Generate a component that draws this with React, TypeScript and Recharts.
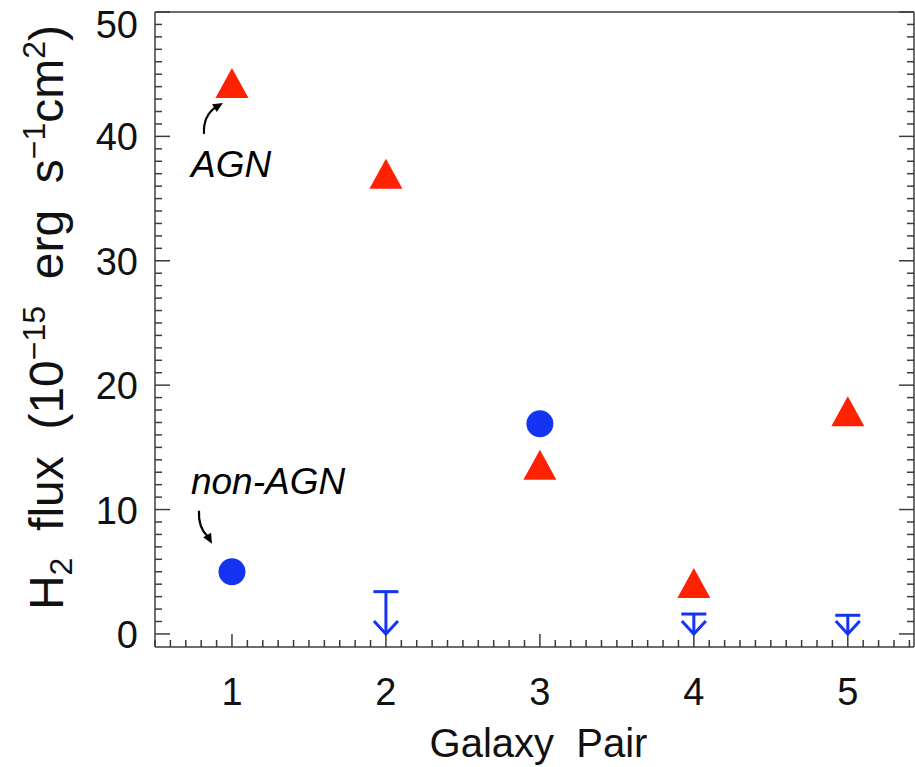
import { ScatterChart, Scatter, XAxis, YAxis, ReferenceLine, ReferenceDot } from 'recharts';

// Galaxy pair index on the x axis
const agnPairs = [1, 2, 3, 4, 5];
const agnFlux = [44.3, 37.0, 13.6, 4.1, 17.9];

const nonAgnPairs = [1, 3];
const nonAgnFlux = [5.0, 16.9];

// non-AGN upper limits
const limitPairs = [2, 4, 5];
const limitFlux = [3.4, 1.6, 1.5];

const xMajorTicks = [1, 2, 3, 4, 5];
const yMajorTicks = [0, 10, 20, 30, 40, 50];
const xTicks = Array.from({ length: 50 }, (_, i) => Math.round((0.5 + i * 0.1) * 10) / 10);
const yTicks = Array.from({ length: 51 }, (_, i) => i);

const RED = '#ff2200';
const BLUE = '#1433f2';
const AXIS = '#3c3c3c';
const FONT = '"Liberation Sans", Arial, sans-serif';

const agnData = agnPairs.map((x, i) => ({ x, y: agnFlux[i] }));
const nonAgnData = nonAgnPairs.map((x, i) => ({ x, y: nonAgnFlux[i] }));

const isMajor = (v: number, majors: number[]) => majors.some((m) => Math.abs(m - v) < 1e-6);

function BottomTick(props: any) {
  const { x, y, payload } = props;
  const major = isMajor(payload.value, xMajorTicks);
  return (
    <g>
      <line x1={x} x2={x} y1={y} y2={y - (major ? 13 : 7)} stroke={AXIS} strokeWidth={1.5} />
      {major && (
        <text x={x} y={y + 58} textAnchor="middle" fontFamily={FONT} fontSize={38} fill="#111">
          {payload.value}
        </text>
      )}
    </g>
  );
}

function TopTick(props: any) {
  const { x, y, payload } = props;
  const major = isMajor(payload.value, xMajorTicks);
  return <line x1={x} x2={x} y1={y} y2={y + (major ? 12 : 5)} stroke={AXIS} strokeWidth={1.5} />;
}

function LeftTick(props: any) {
  const { x, y, payload } = props;
  const major = isMajor(payload.value, yMajorTicks);
  // the top label sits a little lower, as in the original
  const labelY = payload.value === 50 ? y + 26 : y + 14;
  return (
    <g>
      <line x1={x} x2={x + (major ? 15 : 7)} y1={y} y2={y} stroke={AXIS} strokeWidth={1.5} />
      {major && (
        <text x={x - 17} y={labelY} textAnchor="end" fontFamily={FONT} fontSize={38} fill="#111">
          {payload.value}
        </text>
      )}
    </g>
  );
}

function RightTick(props: any) {
  const { x, y, payload } = props;
  const major = isMajor(payload.value, yMajorTicks);
  return <line x1={x} x2={x - (major ? 15 : 7)} y1={y} y2={y} stroke={AXIS} strokeWidth={1.5} />;
}

function Triangle(props: any) {
  const { cx, cy } = props;
  return <polygon points={`${cx},${cy - 15} ${cx - 16.5},${cy + 15} ${cx + 16.5},${cy + 15}`} fill={RED} />;
}

function Dot(props: any) {
  const { cx, cy } = props;
  return <circle cx={cx} cy={cy} r={13.5} fill={BLUE} />;
}

function LimitArrow(props: any) {
  const { x1, y1, y2 } = props;
  const top = Math.min(y1, y2);
  const bottom = Math.max(y1, y2);
  return (
    <g stroke={BLUE} strokeWidth={3} fill="none">
      <line x1={x1 - 12.5} x2={x1 + 12.5} y1={top} y2={top} />
      <line x1={x1} x2={x1} y1={top} y2={bottom} />
      <polyline points={`${x1 - 12},${bottom - 13} ${x1},${bottom} ${x1 + 12},${bottom - 13}`} />
    </g>
  );
}

function CurvedArrow({ d, tip, dir }: { d: string; tip: [number, number]; dir: [number, number] }) {
  const len = Math.hypot(dir[0], dir[1]);
  const ux = dir[0] / len;
  const uy = dir[1] / len;
  const bx = tip[0] - ux * 10;
  const by = tip[1] - uy * 10;
  const px = -uy * 4.5;
  const py = ux * 4.5;
  return (
    <g>
      <path d={d} stroke="#000" strokeWidth={2.2} fill="none" />
      <polygon points={`${tip[0]},${tip[1]} ${bx + px},${by + py} ${bx - px},${by - py}`} fill="#000" />
    </g>
  );
}

function AgnNote(props: any) {
  const { cx, cy } = props;
  return (
    <g>
      <CurvedArrow
        d={`M ${cx - 28} ${cy + 51} Q ${cx - 29} ${cy + 33} ${cx - 16} ${cy + 24}`}
        tip={[cx - 9, cy + 20]}
        dir={[10, -6]}
      />
      <text x={cx - 41} y={cy + 94} fontFamily={FONT} fontStyle="italic" fontSize={37} fill="#000">
        AGN
      </text>
    </g>
  );
}

function NonAgnNote(props: any) {
  const { cx, cy } = props;
  return (
    <g>
      <CurvedArrow
        d={`M ${cx - 33} ${cy - 61} Q ${cx - 34} ${cy - 44} ${cx - 24} ${cy - 35}`}
        tip={[cx - 20, cy - 28]}
        dir={[5, 9]}
      />
      <text x={cx - 41} y={cy - 78} fontFamily={FONT} fontStyle="italic" fontSize={37} fill="#000">
        non-AGN
      </text>
    </g>
  );
}

function YTitle(props: any) {
  const vb = props.viewBox || { x: 0, y: 12, width: 155, height: 635 };
  const tx = vb.x + 63;
  const ty = vb.y + vb.height / 2 - 12;
  return (
    <text
      x={tx}
      y={ty}
      transform={`rotate(-90, ${tx}, ${ty})`}
      textAnchor="middle"
      fontFamily={FONT}
      fontSize={48}
      fill="#111"
      style={{ whiteSpace: 'pre' }}
    >
      H<tspan dy={9} fontSize={32}>2</tspan>
      <tspan dy={-9}>{'  flux  (10'}</tspan>
      <tspan dy={-18} fontSize={32}>−15</tspan>
      <tspan dy={18}>{'  erg  s'}</tspan>
      <tspan dy={-18} fontSize={32}>−1</tspan>
      <tspan dy={18}>cm</tspan>
      <tspan dy={-18} fontSize={32}>2</tspan>
      <tspan dy={18}>)</tspan>
    </text>
  );
}

function XTitle(props: any) {
  const vb = props.viewBox || { x: 155, y: 647, width: 759, height: 120 };
  return (
    <text
      x={vb.x + vb.width / 2 + 4}
      y={vb.y + 110}
      textAnchor="middle"
      fontFamily={FONT}
      fontSize={40}
      fill="#111"
      style={{ whiteSpace: 'pre' }}
    >
      {'Galaxy  Pair'}
    </text>
  );
}

export default function App() {
  const axisLine = { stroke: AXIS, strokeWidth: 1.5 };
  return (
    <div style={{ position: 'absolute', left: 0, top: 0, width: 915, height: 767, background: '#fff' }}>
      <ScatterChart width={915} height={767} margin={{ top: 11, right: 0, bottom: 0, left: 0 }}>
        <XAxis
          xAxisId="b"
          type="number"
          dataKey="x"
          domain={[0.5, 5.43]}
          allowDataOverflow
          ticks={xTicks}
          interval={0}
          height={120}
          tickSize={0}
          tickMargin={0}
          tickLine={false}
          axisLine={axisLine}
          tick={<BottomTick />}
          label={<XTitle />}
        />
        <XAxis
          xAxisId="t"
          orientation="top"
          type="number"
          domain={[0.5, 5.43]}
          allowDataOverflow
          ticks={xTicks}
          interval={0}
          height={1}
          tickSize={0}
          tickMargin={0}
          tickLine={false}
          axisLine={axisLine}
          tick={<TopTick />}
        />
        <YAxis
          yAxisId="l"
          type="number"
          dataKey="y"
          domain={[-1.05, 50]}
          allowDataOverflow
          ticks={yTicks}
          interval={0}
          width={155}
          tickSize={0}
          tickMargin={0}
          tickLine={false}
          axisLine={axisLine}
          tick={<LeftTick />}
          label={<YTitle />}
        />
        <YAxis
          yAxisId="r"
          orientation="right"
          type="number"
          domain={[-1.05, 50]}
          allowDataOverflow
          ticks={yTicks}
          interval={0}
          width={1}
          tickSize={0}
          tickMargin={0}
          tickLine={false}
          axisLine={axisLine}
          tick={<RightTick />}
        />
        {limitPairs.map((p, i) => (
          <ReferenceLine
            key={p}
            xAxisId="b"
            yAxisId="l"
            segment={[
              { x: p, y: limitFlux[i] },
              { x: p, y: 0 },
            ]}
            shape={(lp: any) => <LimitArrow {...lp} />}
          />
        ))}
        <Scatter xAxisId="b" yAxisId="l" data={agnData} shape={<Triangle />} isAnimationActive={false} />
        <Scatter xAxisId="b" yAxisId="l" data={nonAgnData} shape={<Dot />} isAnimationActive={false} />
        <ReferenceDot
          xAxisId="b"
          yAxisId="l"
          x={agnPairs[0]}
          y={agnFlux[0]}
          shape={(dp: any) => <AgnNote {...dp} />}
        />
        <ReferenceDot
          xAxisId="b"
          yAxisId="l"
          x={nonAgnPairs[0]}
          y={nonAgnFlux[0]}
          shape={(dp: any) => <NonAgnNote {...dp} />}
        />
      </ScatterChart>
    </div>
  );
}
